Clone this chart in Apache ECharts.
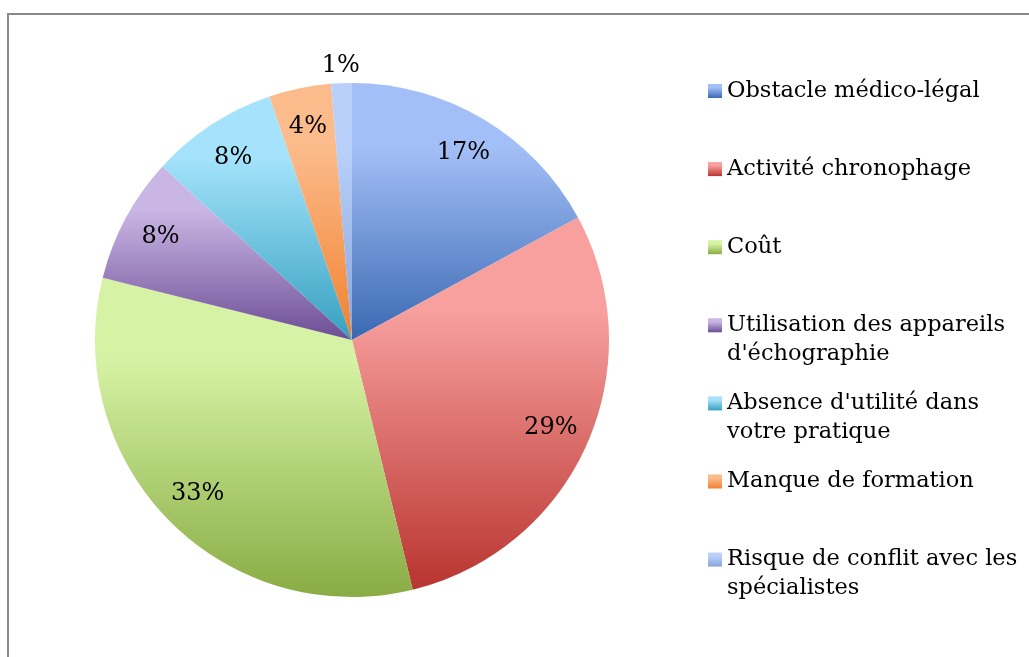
<!DOCTYPE html>
<html>
<head>
<meta charset="utf-8">
<script src="https://cdn.jsdelivr.net/npm/echarts@6/dist/echarts.min.js"></script>
<style>
html,body{margin:0;padding:0;background:#ffffff;}
#chart{width:1029px;height:657px;}
</style>
</head>
<body>
<div id="chart"></div>
<script>
// ---- data ----
const categories = [
  'Obstacle médico-légal',
  'Activité chronophage',
  'Coût',
  "Utilisation des appareils d'échographie",
  "Absence d'utilité dans votre pratique",
  'Manque de formation',
  'Risque de conflit avec les spécialistes'
];
const legendLabels = [
  'Obstacle médico-légal',
  'Activité chronophage',
  'Coût',
  "Utilisation des appareils\nd'échographie",
  "Absence d'utilité dans\nvotre pratique",
  'Manque de formation',
  'Risque de conflit avec les\nspécialistes'
];
const shares = [17.1, 29.1, 32.7, 7.9, 8.0, 3.9, 1.3];

// ---- style ----
const topColors    = ['#a3bff7', '#f7a09e', '#d6f3a5', '#c9b6e4', '#a4e3fb', '#fcbb8b', '#b9d1fa'];
const bottomColors = ['#3a69b2', '#b93430', '#89ac44', '#6c4d95', '#35a0bf', '#f0812e', '#88a5da'];
const FONT = 'DejaVu Serif';
const CX = 352, CY = 340, R = 257;
const LH = 29;
const LEGEND_FIRST = 91, LEGEND_STEP = 78.1;

function grad(i) {
  return new echarts.graphic.LinearGradient(0, 0, 0, 1, [
    { offset: 0, color: topColors[i] },
    { offset: 0.25, color: topColors[i] },
    { offset: 1, color: bottomColors[i] }
  ]);
}

const chart = echarts.init(document.getElementById('chart'), null, { renderer: 'canvas' });

const mainData = categories.map((n, i) => ({ name: n, value: shares[i], itemStyle: { color: grad(i) } }));
const ghostData = categories.map((n, i) => ({ name: n, value: shares[i] }));

const labelBase = { fontFamily: FONT, fontSize: 24, color: '#000000' };

const option = {
  backgroundColor: '#ffffff',
  animation: false,
  graphic: [{
    type: 'rect',
    silent: true,
    shape: { x: 8, y: 14, width: 1200, height: 800 },
    style: { fill: 'none', stroke: '#8a8a8a', lineWidth: 2 }
  }],
  legend: categories.map((n, i) => {
    const lines = legendLabels[i].split('\n').length;
    const c = LEGEND_FIRST + i * LEGEND_STEP;
    return {
      data: [n],
      orient: 'vertical',
      left: 708,
      top: c - (lines === 1 ? LH / 2 : LH * 1.5),
      padding: 0,
      itemWidth: 14,
      itemHeight: 14,
      icon: 'rect',
      // multi-line entries get a blank leading line so the first line sits beside the marker
      formatter: name => {
        const t = legendLabels[categories.indexOf(name)];
        return t.indexOf('\n') >= 0 ? '\n' + t : t;
      },
      textStyle: { fontFamily: FONT, fontSize: 22.5, color: '#000000', lineHeight: LH }
    };
  }),
  series: [
    {
      type: 'pie',
      center: [CX, CY],
      radius: [0, R],
      startAngle: 90,
      clockwise: true,
      avoidLabelOverlap: false,
      label: { show: false },
      labelLine: { show: false },
      emphasis: { disabled: true },
      itemStyle: { borderWidth: 0 },
      data: mainData
    },
    {
      type: 'pie',
      center: [CX, CY],
      radius: [172, R],
      startAngle: 90,
      clockwise: true,
      silent: true,
      avoidLabelOverlap: false,
      itemStyle: { color: 'rgba(0,0,0,0)', borderWidth: 0 },
      label: Object.assign({ show: true, position: 'inside',
        formatter: p => p.percent >= 2 ? Math.round(p.percent) + '%' : '' }, labelBase),
      labelLine: { show: false },
      emphasis: { disabled: true },
      data: ghostData
    },
    {
      type: 'pie',
      center: [CX, CY],
      radius: [R, 285],
      startAngle: 90,
      clockwise: true,
      silent: true,
      avoidLabelOverlap: false,
      itemStyle: { color: 'rgba(0,0,0,0)', borderWidth: 0 },
      label: Object.assign({ show: true, position: 'inside',
        formatter: p => p.percent < 2 ? Math.round(p.percent) + '%' : '' }, labelBase),
      labelLine: { show: false },
      emphasis: { disabled: true },
      data: ghostData
    }
  ]
};

chart.setOption(option);
</script>
</body>
</html>
